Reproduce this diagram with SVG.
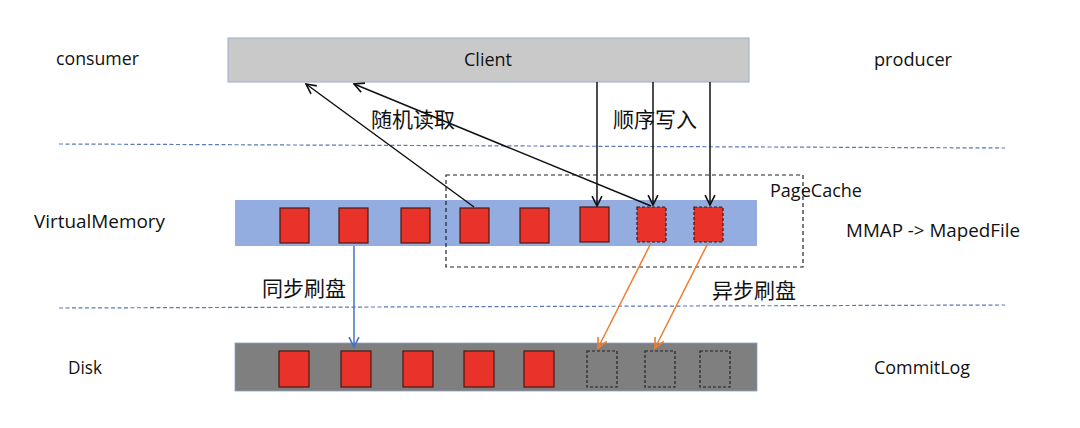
<svg xmlns="http://www.w3.org/2000/svg" width="1080" height="428" viewBox="0 0 1080 428">
<style>
.lbl{font-family:"Open Sans","Liberation Sans",sans-serif;font-size:18.5px;fill:#111}
.cjk{font-family:"Noto Sans CJK SC","Noto Sans",sans-serif;font-size:21px;fill:#111}
.sep{stroke:#5b79b8;stroke-width:1.2;stroke-dasharray:4 2.5;fill:none}
.blk{fill:#e8322a;stroke:#4a1a12;stroke-width:1.2}
.blkd{fill:#e8322a;stroke:#3a1a12;stroke-width:1.2;stroke-dasharray:3 2}
.emp{fill:none;stroke:#222;stroke-width:1.2;stroke-dasharray:3 2}
.ab{stroke:#111;stroke-width:1.5;fill:none}
</style>
<defs>
<marker id="mb" markerWidth="12" markerHeight="12" refX="10" refY="5" orient="auto" markerUnits="userSpaceOnUse" viewBox="0 0 11 10"><path d="M1,0.5 L10,5 L1,9.5" fill="none" stroke="#111" stroke-width="1.5"/></marker>
<marker id="mbl" markerWidth="12" markerHeight="12" refX="10" refY="5" orient="auto" markerUnits="userSpaceOnUse" viewBox="0 0 11 10"><path d="M1,0.5 L10,5 L1,9.5" fill="none" stroke="#4472c4" stroke-width="1.5"/></marker>
<marker id="mo" markerWidth="12" markerHeight="12" refX="10" refY="5" orient="auto" markerUnits="userSpaceOnUse" viewBox="0 0 11 10"><path d="M1,0.5 L10,5 L1,9.5" fill="none" stroke="#ed7d31" stroke-width="1.5"/></marker>
</defs>
<rect width="1080" height="428" fill="#fff"/>
<line class="sep" x1="59" y1="144" x2="1005" y2="148"/>
<line class="sep" x1="59" y1="308" x2="1005" y2="305"/>
<text class="lbl" x="56" y="65" textLength="83" lengthAdjust="spacingAndGlyphs">consumer</text>
<text class="lbl" x="874" y="66" textLength="78" lengthAdjust="spacingAndGlyphs">producer</text>
<text class="lbl" x="34" y="228" textLength="131" lengthAdjust="spacingAndGlyphs">VirtualMemory</text>
<text class="lbl" x="846" y="237" textLength="174" lengthAdjust="spacingAndGlyphs">MMAP -&gt; MapedFile</text>
<text class="lbl" x="68" y="374" textLength="34" lengthAdjust="spacingAndGlyphs">Disk</text>
<text class="lbl" x="874" y="374" textLength="96" lengthAdjust="spacingAndGlyphs">CommitLog</text>
<g id="client">
<rect x="228" y="38" width="521" height="44" fill="#c9c9c9" stroke="#9aaace" stroke-width="1"/>
<text class="lbl" x="488" y="66" text-anchor="middle" textLength="48" lengthAdjust="spacingAndGlyphs">Client</text>
</g>
<g id="virtualmemory">
<rect x="235" y="200" width="522" height="46" fill="#93ade0"/>
<rect class="blk" x="280" y="208" width="29" height="35"/>
<rect class="blk" x="339" y="208" width="29" height="35"/>
<rect class="blk" x="401" y="208" width="29" height="35"/>
<rect class="blk" x="460" y="208" width="29" height="35"/>
<rect class="blk" x="520" y="208" width="29" height="35"/>
<rect class="blk" x="580" y="207" width="29" height="35"/>
<rect class="blkd" x="637" y="207" width="29" height="35"/>
<rect class="blkd" x="694" y="207" width="29" height="35"/>
</g>
<g id="pagecache">
<rect x="446" y="175" width="357" height="92" fill="none" stroke="#222" stroke-width="1.2" stroke-dasharray="4 3"/>
<text class="lbl" x="770" y="197" textLength="92" lengthAdjust="spacingAndGlyphs">PageCache</text>
</g>
<g id="disk">
<rect x="235" y="343" width="522" height="48" fill="#7f7f7f" stroke="#8aa0c8" stroke-width="0.8"/>
<rect class="blk" x="279" y="351" width="30" height="36"/>
<rect class="blk" x="341" y="351" width="30" height="36"/>
<rect class="blk" x="403" y="351" width="30" height="36"/>
<rect class="blk" x="464" y="351" width="30" height="36"/>
<rect class="blk" x="524" y="351" width="30" height="36"/>
<rect class="emp" x="587" y="351" width="30" height="36"/>
<rect class="emp" x="645" y="351" width="30" height="36"/>
<rect class="emp" x="700" y="351" width="30" height="36"/>
</g>
<g id="connectors">
<line class="ab" x1="597" y1="82" x2="597" y2="206" marker-end="url(#mb)"/>
<line class="ab" x1="653" y1="82" x2="653" y2="205" marker-end="url(#mb)"/>
<line class="ab" x1="710" y1="82" x2="710" y2="205" marker-end="url(#mb)"/>
<line class="ab" x1="474" y1="207" x2="306" y2="84" marker-end="url(#mb)"/>
<line class="ab" x1="651" y1="206" x2="354" y2="84" marker-end="url(#mb)"/>
<line x1="354" y1="246" x2="354" y2="347" stroke="#4472c4" stroke-width="1.5" marker-end="url(#mbl)"/>
<line x1="651" y1="243" x2="598" y2="348" stroke="#ed7d31" stroke-width="1.5" marker-end="url(#mo)"/>
<line x1="708" y1="243" x2="655" y2="348" stroke="#ed7d31" stroke-width="1.5" marker-end="url(#mo)"/>
</g>
<text class="cjk" x="371" y="127">随机读取</text>
<text class="cjk" x="613" y="127">顺序写入</text>
<text class="cjk" x="262" y="296">同步刷盘</text>
<text class="cjk" x="712" y="298">异步刷盘</text>
</svg>
